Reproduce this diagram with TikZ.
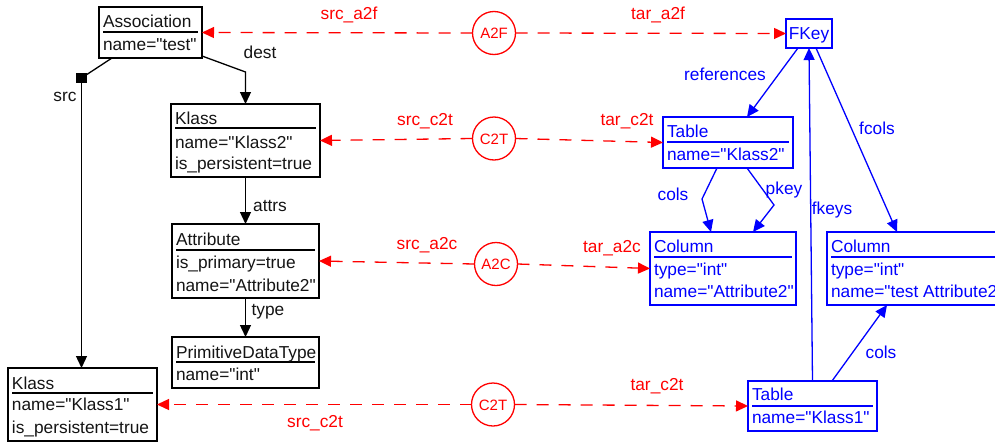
\documentclass[tikz,border=0pt]{standalone}
\usepackage{fontspec}
\setmainfont{Liberation Sans}[Ligatures=TeXOff]
\usetikzlibrary{arrows.meta}
\definecolor{mred}{RGB}{255,0,0}
\definecolor{mblue}{RGB}{0,0,255}
\definecolor{mink}{RGB}{20,20,20}

% box from corner (x1,y1) to (x2,y2) in pixel-like units
\newcommand\mkbox[6]{%
  \node[#6, minimum width={(#4)-(#2)}, minimum height={(#5)-(#3)}]
    (#1) at ({((#2)+(#4))/2},{((#3)+(#5))/2}) {};}

\begin{document}
\begin{tikzpicture}[x=1pt,y=-1pt,
  every node/.style={inner sep=0pt, outer sep=0pt},
  font=\fontsize{17.3}{20}\selectfont,
  boxk/.style={draw=black, line width=1.3pt, rectangle},
  boxb/.style={draw=mblue, line width=1.3pt, rectangle},
  sepk/.style={draw=black, line width=1.3pt},
  sepb/.style={draw=mblue, line width=1.3pt},
  rowk/.style={anchor=west, text=mink, text height=12.5pt, text depth=0pt},
  rowb/.style={rowk, text=mblue},
  lblk/.style={text=mink, text height=12.5pt, text depth=0pt},
  lblr/.style={lblk, text=mred},
  lblb/.style={lblk, text=mblue},
  tip/.style={-{Triangle[length=12pt,width=11pt]}},
  linek/.style={draw=black, line width=1.3pt},
  lineb/.style={draw=mblue, line width=1.3pt},
  liner/.style={draw=mred, line width=1.3pt, dash pattern=on 12pt off 10pt},
  rule/.style={circle, draw=mred, line width=1.3pt, minimum size=43pt,
    text=mred, font=\fontsize{15}{18}\selectfont, text height=11pt, text depth=0pt}
]
\useasboundingbox (0,0) rectangle (995,442);
\clip (0,0) rectangle (995,442);

% ---------- source model ----------
\mkbox{assoc}{99}{7}{202}{58}{boxk}
\draw[sepk] (103,32) -- (198,32);
\node[rowk] (assoc-r1) at (103,21.5) {Association};
\node[rowk] (assoc-r2) at (103,44) {name="test"};

\mkbox{klass2}{171}{104}{320}{177}{boxk}
\draw[sepk] (175,128) -- (316,128);
\node[rowk] (klass2-r1) at (175,118.5) {Klass};
\node[rowk] (klass2-r2) at (175,142) {name="Klass2"};
\node[rowk] (klass2-r3) at (175,163.5) {is\_persistent=true};

\mkbox{attr}{172}{224}{319}{298}{boxk}
\draw[sepk] (176,250) -- (315,250);
\node[rowk] (attr-r1) at (176,239) {Attribute};
\node[rowk] (attr-r2) at (176,262) {is\_primary=true};
\node[rowk] (attr-r3) at (176,285) {name="Attribute2"};

\mkbox{prim}{172}{337}{319}{388}{boxk}
\draw[sepk] (176,362) -- (315,362);
\node[rowk] (prim-r1) at (176,352) {PrimitiveDataType};
\node[rowk] (prim-r2) at (176,374) {name="int"};

\mkbox{klass1}{8}{368}{157}{441}{boxk}
\draw[sepk] (12,393) -- (153,393);
\node[rowk] (klass1-r1) at (12,383) {Klass};
\node[rowk] (klass1-r2) at (12,404.5) {name="Klass1"};
\node[rowk] (klass1-r3) at (12,427.5) {is\_persistent=true};

% ---------- target model ----------
\node[boxb, minimum width=46, minimum height=29, text=mblue,
  text height=12.5pt, text depth=0pt] (fkey) at (809,33.5) {FKey};

\mkbox{table2}{663}{117}{793}{168}{boxb}
\draw[sepb] (667,142) -- (789,142);
\node[rowb] (table2-r1) at (667,131.5) {Table};
\node[rowb] (table2-r2) at (667,154.5) {name="Klass2"};

\mkbox{col1}{650}{232}{796}{305}{boxb}
\draw[sepb] (654,257) -- (792,257);
\node[rowb] (col1-r1) at (654,246) {Column};
\node[rowb] (col1-r2) at (654,269) {type="int"};
\node[rowb] (col1-r3) at (654,291) {name="Attribute2"};

\mkbox{col2}{827}{232}{1001}{305}{boxb}
\draw[sepb] (831,257) -- (997,257);
\node[rowb] (col2-r1) at (831,246) {Column};
\node[rowb] (col2-r2) at (831,269) {type="int"};
\node[rowb] (col2-r3) at (831,291) {name="test Attribute2"};

\mkbox{table1}{748}{381}{877}{431}{boxb}
\draw[sepb] (752,406) -- (873,406);
\node[rowb] (table1-r1) at (752,394.5) {Table};
\node[rowb] (table1-r2) at (752,417.5) {name="Klass1"};

% ---------- source links ----------
\node[fill=black, minimum size=10.5pt] (srcsq) at (81.5,78) {};
\draw[linek] ([xshift=13pt]assoc.south west) -- (srcsq.center);
\draw[linek, tip] (srcsq.center) -- (srcsq |- klass1.north);
\node[lblk] (lsrc) at (65,95) {src};

\coordinate (destbend) at (245.5,72);
\draw[linek, tip] ([yshift=2pt]assoc.south east) -- (destbend) -- (klass2.north);
\node[lblk] (ldest) at (260,52) {dest};

\draw[linek, tip] (klass2.south) -- (attr.north);
\node[lblk] (lattrs) at (270,205) {attrs};

\draw[linek, tip] (attr.south) -- (prim.north);
\node[lblk] (ltype) at (268,309) {type};

% ---------- target links ----------
\draw[lineb, tip] ([xshift=-11pt]fkey.south) -- ([xshift=19pt]table2.north);
\node[lblb] (lref) at (725,74) {references};

\draw[lineb, tip] (table1.north) -- (fkey.south);
\node[lblb] (lfkeys) at (832,208) {fkeys};

\draw[lineb, tip] ([xshift=7pt]fkey.south) -- ([xshift=-17pt]col2.north);
\node[lblb] (lfcols) at (877,128) {fcols};

\coordinate (colsbend) at (702,199);
\draw[lineb, tip] ([xshift=-11pt]table2.south) -- (colsbend) -- ([xshift=-12pt]col1.north);
\node[lblb] (lcols2) at (673,194) {cols};

\coordinate (pkeybend) at (774,205);
\draw[lineb, tip] ([xshift=19pt]table2.south) -- (pkeybend) -- ([xshift=30pt]col1.north);
\node[lblb] (lpkey) at (784,188) {pkey};

\draw[lineb, tip] ([xshift=19.5pt]table1.north) -- ([xshift=-27pt]col2.south);
\node[lblb] (lcols1) at (881,352) {cols};

% ---------- transformation rules ----------
\node[rule] (a2f) at (494,33) {A2F};
\draw[liner, tip] (a2f.west) -- (assoc.east);
\draw[liner, tip] (a2f.east) -- (fkey.west);
\node[lblr] (lsa2f) at (349,13) {src\_a2f};
\node[lblr] (lta2f) at (658,13) {tar\_a2f};

\node[rule] (c2ta) at (494,138.5) {C2T};
\draw[liner, tip] (c2ta.west) -- (klass2.east);
\draw[liner, tip] (c2ta.east) -- (table2.west);
\node[lblr] (lsc2ta) at (425,119) {src\_c2t};
\node[lblr] (ltc2ta) at (627,119) {tar\_c2t};

\node[rule] (a2c) at (496,264) {A2C};
\draw[liner, tip] (a2c.west) -- (attr.east);
\draw[liner, tip] (a2c.east) -- (col1.west);
\node[lblr] (lsa2c) at (427,243) {src\_a2c};
\node[lblr] (lta2c) at (612,246) {tar\_a2c};

\node[rule] (c2tb) at (493,404.5) {C2T};
\draw[liner, tip] (c2tb.west) -- (klass1.east);
\draw[liner, tip] (c2tb.east) -- (table1.west);
\node[lblr] (lsc2tb) at (315,421) {src\_c2t};
\node[lblr] (ltc2tb) at (657,384) {tar\_c2t};
\end{tikzpicture}
\end{document}
